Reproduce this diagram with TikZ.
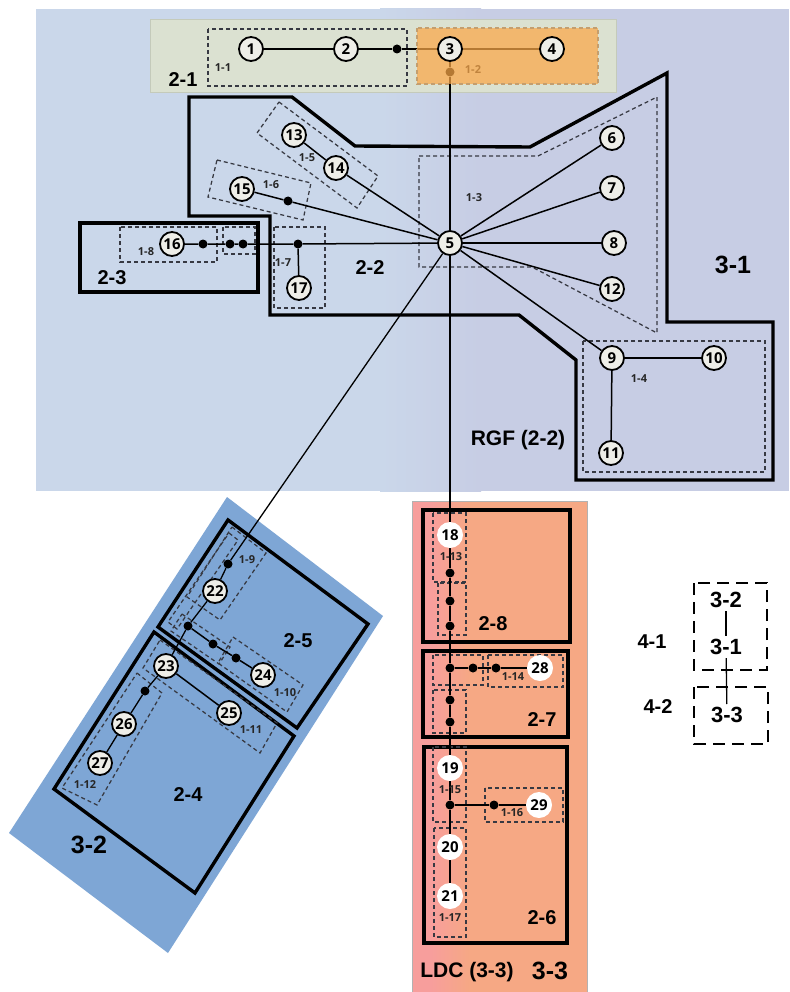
\documentclass[tikz,border=0pt]{standalone}
\usepackage{fontspec}
\setmainfont{Liberation Sans}
\newfontfamily\numfont{Open Sans}

\definecolor{rgfL}{RGB}{202,215,234}
\definecolor{rgfR}{RGB}{199,205,228}
\definecolor{boxA}{RGB}{219,225,209}
\definecolor{boxAedge}{RGB}{196,202,186}
\definecolor{orangeT}{RGB}{252,168,72}
\definecolor{tanD}{RGB}{196,158,110}
\definecolor{blueZ}{RGB}{126,166,213}
\definecolor{ldcL}{RGB}{247,158,156}
\definecolor{ldcR}{RGB}{246,168,132}
\definecolor{dashgray}{RGB}{55,57,66}
\definecolor{nodefill}{RGB}{238,238,232}

\pgfdeclarelayer{zones}
\pgfdeclarelayer{wires}
\pgfdeclarelayer{tint}
\pgfsetlayers{zones,wires,tint,main}

\tikzset{
  region/.style={draw=black, line width=3.4pt, line join=miter},
  grp/.style={draw=dashgray, line width=1.25pt, dash pattern=on 4pt off 3pt},
  conn/.style={draw=black, line width=1.5pt},
  nd/.style={circle, draw=black, line width=1.8pt, fill=nodefill, minimum size=24pt, inner sep=0pt,
             font=\numfont\bfseries\fontsize{15}{15}\selectfont},
  ndw/.style={circle, fill=white, minimum size=26pt, inner sep=0pt,
             font=\numfont\bfseries\fontsize{15}{15}\selectfont},
  jdot/.style={circle, fill=black, minimum size=9pt, inner sep=0pt},
  sublab/.style={font=\numfont\bfseries\fontsize{11}{11}\selectfont, inner sep=0pt, text=black!85},
  lab/.style={font=\bfseries\fontsize{20}{20}\selectfont, inner sep=0pt},
  biglab/.style={font=\bfseries\fontsize{25}{25}\selectfont, inner sep=0pt},
  leglab/.style={font=\bfseries\fontsize{22}{22}\selectfont, inner sep=3pt},
  legbox/.style={draw=black, line width=2.6pt, dash pattern=on 12pt off 7pt},
}

\begin{document}
\begin{tikzpicture}[x=1pt,y=-1pt]
\useasboundingbox (0,0) rectangle (789,992);

% ---------------- elements ----------------
\node[nd] (n1) at (251,49) {1};
\node[nd] (n2) at (346,49) {2};
\node[nd] (n3) at (450,49) {3};
\node[nd] (n4) at (552,49) {4};
\node[jdot] (d1) at (397,49) {};

\node[nd] (n5) at (450,243) {5};
\node[nd] (n6) at (612,138) {6};
\node[nd] (n7) at (612,188) {7};
\node[nd] (n8) at (614,243) {8};
\node[nd] (n12) at (612,289) {12};
\node[nd] (n9) at (612,358) {9};
\node[nd] (n10) at (714,358) {10};
\node[nd] (n11) at (611,453) {11};

\node[nd] (n13) at (294,135) {13};
\node[nd] (n14) at (336,168) {14};
\node[nd] (n15) at (242,189) {15};
\node[jdot] (d3) at (288,201) {};

\node[nd] (n16) at (172,244) {16};
\node[jdot] (d4) at (203,244) {};
\node[jdot] (d5) at (230,244) {};
\node[jdot] (d6) at (243,244) {};
\node[jdot] (d7) at (298,244) {};
\node[nd] (n17) at (299,288) {17};

\node[jdot] (d8) at (228,564) {};
\node[nd] (n22) at (215,591) {22};
\node[jdot] (d9) at (188,626) {};
\node[jdot] (d10) at (213,644) {};
\node[jdot] (d11) at (236,658) {};
\node[nd] (n24) at (263,675) {24};
\node[nd] (n23) at (166,666) {23};
\node[nd] (n25) at (229,713) {25};
\node[jdot] (d12) at (145,691) {};
\node[nd] (n26) at (124,724) {26};
\node[nd] (n27) at (100,763) {27};

\node[ndw] (n18) at (450,535) {18};
\node[jdot] (d13) at (450,573) {};
\node[jdot] (d14) at (450,601) {};
\node[jdot] (d15) at (450,626) {};
\node[jdot] (d16) at (450,668) {};
\node[jdot] (d17) at (473,668) {};
\node[jdot] (d18) at (496,668) {};
\node[ndw] (n28) at (540,668) {28};
\node[jdot] (d19) at (450,700) {};
\node[jdot] (d20) at (450,722) {};
\node[ndw] (n19) at (450,768) {19};
\node[jdot] (d21) at (450,805) {};
\node[jdot] (d22) at (494,805) {};
\node[ndw] (n29) at (539,805) {29};
\node[ndw] (n20) at (450,847) {20};
\node[ndw] (n21) at (450,896) {21};

% ---------------- zone labels ----------------
\node[lab] (t21) at (183,80) {2-1};
\node[lab] (t22) at (370,268) {2-2};
\node[lab] (t23) at (112,278) {2-3};
\node[biglab] (t31) at (733,265) {3-1};
\node[lab, font=\bfseries\fontsize{21}{21}\selectfont] (trgf) at (518,440) {RGF (2-2)};
\node[lab] (t25) at (298,641) {2-5};
\node[lab] (t24) at (188,795) {2-4};
\node[biglab] (t32) at (89,845) {3-2};
\node[lab] (t28) at (493,624) {2-8};
\node[lab] (t27) at (542,720) {2-7};
\node[lab] (t26) at (542,918) {2-6};
\node[lab, font=\bfseries\fontsize{21}{21}\selectfont] (tldc) at (467,972) {LDC (3-3)};
\node[biglab] (t33) at (550,971) {3-3};

% ---------------- group labels ----------------
\node[sublab] (g11) at (223,68) {1-1};
\node[sublab] (g13) at (474,198) {1-3};
\node[sublab] (g14) at (639,379) {1-4};
\node[sublab] (g15) at (307,158) {1-5};
\node[sublab] (g16) at (271,185) {1-6};
\node[sublab] (g17) at (283,263) {1-7};
\node[sublab] (g18) at (146,252) {1-8};
\node[sublab] (g19) at (247,560) {1-9};
\node[sublab] (g110) at (285,693) {1-10};
\node[sublab] (g111) at (251,730) {1-11};
\node[sublab] (g112) at (85,785) {1-12};
\node[sublab] (g113) at (451,557) {1-13};
\node[sublab] (g114) at (513,677) {1-14};
\node[sublab] (g115) at (450,790) {1-15};
\node[sublab] (g116) at (512,813) {1-16};
\node[sublab] (g117) at (450,918) {1-17};

% ---------------- legend ----------------
\node[leglab] (l32) at (726,600) {3-2};
\node[leglab] (l31) at (726,647) {3-1};
\node[leglab] (l33) at (727,715) {3-3};
\node[lab] (l41) at (652,642) {4-1};
\node[lab] (l42) at (658,707) {4-2};
\draw[legbox] (694,583) rectangle (767,670);
\draw[legbox] (694,687) rectangle (768,744);
\draw[line width=1.3pt] (l32) -- (l31);
\draw[line width=1.3pt] (l31) -- (l33);

% ---------------- zones and groups ----------------
\begin{pgfonlayer}{zones}
  \fill[white] (0,0) rectangle (789,992);
  % RGF backdrop, drifting from blue to lavender
  \fill[rgfL] (36,9) rectangle (381,491);
  \shade[left color=rgfL, right color=rgfR] (380,9) rectangle (481,491);
  \fill[rgfR] (480,9) rectangle (789,491);
  \fill[boxA, draw=boxAedge, line width=0.8pt] (150,19) rectangle (616,92);
  \fill[blueZ] (227,497) -- (383,616) -- (168,953) -- (9,833) -- cycle;
  % LDC backdrop, pink on its left side
  \fill[ldcR] (469,501) rectangle (587,992);
  \shade[left color=ldcL, right color=ldcR] (431,501) rectangle (470,992);
  \fill[ldcL] (412,501) rectangle (432,992);
  \draw[black!30, line width=0.8pt] (412,992) -- (412,501) -- (587,501) -- (587,992);

  % outlined zones
  \draw[region] (189,97) -- (292,97) -- (355,146) -- (530,147) -- (667,73) -- (667,322)
        -- (773,322) -- (773,480) -- (576,480) -- (576,360) -- (519,315) -- (270,315)
        -- (270,216) -- (189,216) -- cycle;
  \draw[region] (80,223) rectangle (258,292);
  \draw[region] (228,520) -- (368,624) -- (297,728) -- (158,627) -- cycle;
  \draw[region] (154,632) -- (294,736) -- (195,893) -- (54,789) -- cycle;
  \draw[region] (423,510) rectangle (570,642);
  \draw[region] (423,651) rectangle (568,737);
  \draw[region] (424,747) rectangle (567,943);

  % dashed groups
  \draw[grp] (208,29) rectangle (407,86);
  \draw[grp] (419,156) -- (538,156) -- (657,97) -- (657,333) -- (532,267) -- (419,267) -- cycle;
  \draw[grp] (583,341) rectangle (765,472);
  \draw[grp] (279,102) -- (378,176) -- (357,208) -- (257,133) -- cycle;
  \draw[grp] (217,160) -- (311,183) -- (303,220) -- (208,197) -- cycle;
  \draw[grp] (274,227) rectangle (325,308);
  \draw[grp] (120,227) rectangle (217,262);
  \draw[grp] (223,227) rectangle (255,254);

  \draw[grp] (232,527) -- (266,553) -- (220,620) -- (187,597) -- cycle;
  \draw[grp] (229,533) -- (238,540) -- (177,629) -- (168,622) -- cycle;
  \draw[grp] (182,614) -- (230,647) -- (219,664) -- (171,631) -- cycle;
  \draw[grp] (233,637) -- (303,685) -- (287,712) -- (218,663) -- cycle;
  \draw[grp] (160,640) -- (277,723) -- (260,753) -- (143,668) -- cycle;
  \draw[grp] (137,673) -- (162,693) -- (97,805) -- (62,788) -- cycle;

  \draw[grp] (433,513) rectangle (466,582);
  \draw[grp] (438,583) rectangle (466,635);
  \draw[grp] (433,655) rectangle (483,685);
  \draw[grp] (488,655) rectangle (563,687);
  \draw[grp] (433,690) rectangle (466,733);
  \draw[grp] (433,747) rectangle (466,822);
  \draw[grp] (485,788) rectangle (563,822);
  \draw[grp] (434,828) rectangle (466,937);
\end{pgfonlayer}

% ---------------- connectors ----------------
\begin{pgfonlayer}{wires}
  \node[jdot] (d2) at (450,72) {};
  \node[sublab] (g12) at (473,70) {1-2};
  \draw[conn] (n1) -- (n2) -- (d1) -- (n3) -- (n4);
  \draw[conn] (n3) -- (d2) -- (n5) -- (n18) -- (d13) -- (d14) -- (d15) -- (d16)
        -- (d19) -- (d20) -- (n19) -- (d21) -- (n20) -- (n21);
  \draw[conn] (d16) -- (d17) -- (d18) -- (n28);
  \draw[conn] (d21) -- (d22) -- (n29);
  \draw[conn] (n5) -- (n6);
  \draw[conn] (n5) -- (n7);
  \draw[conn] (n5) -- (n8);
  \draw[conn] (n5) -- (n12);
  \draw[conn] (n5) -- (n9);
  \draw[conn] (n9) -- (n10);
  \draw[conn] (n9) -- (n11);
  \draw[conn] (n13) -- (n14) -- (n5);
  \draw[conn] (n15) -- (d3) -- (n5);
  \draw[conn] (n16) -- (d4) -- (d5) -- (d6) -- (d7) -- (n5);
  \draw[conn] (d7) -- (n17);
  \draw[conn, line width=1.3pt] (n5) -- (d8) -- (n22) -- (d9) -- (n23) -- (d12) -- (n26) -- (n27);
  \draw[conn] (d9) -- (d10) -- (d11) -- (n24);
  \draw[conn] (n23) -- (n25);
\end{pgfonlayer}

% ---------------- tinted group 1-2 ----------------
\begin{pgfonlayer}{tint}
  \fill[orangeT, opacity=0.72] (417,28) rectangle (598,84);
  \draw[grp, draw=tanD] (417,28) rectangle (598,84);
\end{pgfonlayer}
\end{tikzpicture}
\end{document}
